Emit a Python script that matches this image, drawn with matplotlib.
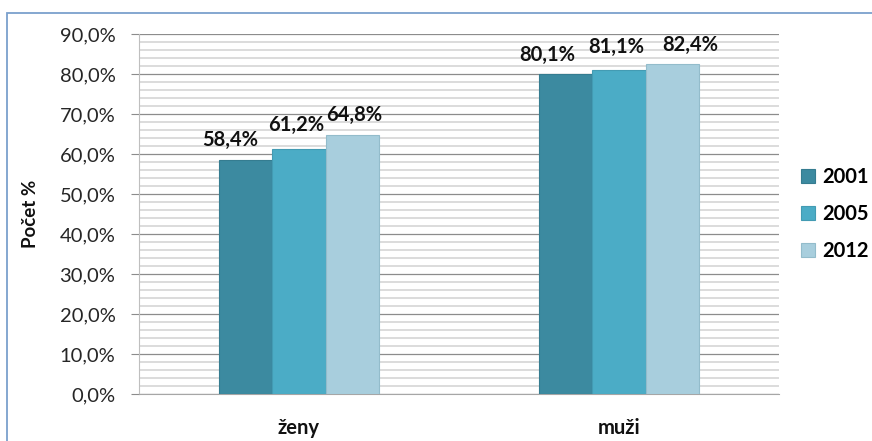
import numpy as np
import matplotlib.pyplot as plt
from matplotlib.patches import Rectangle
from matplotlib.ticker import MultipleLocator, FuncFormatter

categories = ["ženy", "muži"]
years = ["2001", "2005", "2012"]
values_2001 = [58.4, 80.1]
values_2005 = [61.2, 81.1]
values_2012 = [64.8, 82.4]

colors = ["#3C8AA0", "#4BACC6", "#A8CEDD"]
edges = ["#357C90", "#439BB3", "#93BCCB"]
# label offsets (px) - Excel shifts them sideways to avoid overlap
label_dx = [[-15, -3, 2], [-18, -3, 18]]
label_dy = [[10, 14, 10], [9, 13, 9]]

plt.rcParams["font.family"] = ["Lato", "DejaVu Sans"]

fig = plt.figure(figsize=(8.72, 4.41), dpi=100)
ax = fig.add_axes([139/872, 1-394/441, 640/872, 360/441])

x = np.arange(len(categories))
w = 1/6
series = [values_2001, values_2005, values_2012]
for i, vals in enumerate(series):
    bars = ax.bar(x + (i-1)*w, vals, width=w, color=colors[i], edgecolor=edges[i],
                  linewidth=0.8, label=years[i], zorder=3)
    for j, b in enumerate(bars):
        ax.annotate(f"{vals[j]:.1f}%".replace(".", ","),
                    (b.get_x() + b.get_width()/2, b.get_height()),
                    xytext=(label_dx[j][i]*0.72, label_dy[j][i]*0.72),
                    textcoords="offset points",
                    ha="center", va="bottom", fontsize=14.5, fontweight="bold",
                    color="#111111")

ax.set_xlim(-0.5, 1.5)
ax.set_ylim(0, 90)
ax.yaxis.set_major_locator(MultipleLocator(10))
ax.yaxis.set_minor_locator(MultipleLocator(2))
ax.yaxis.set_major_formatter(FuncFormatter(lambda v, p: f"{v:.1f}%".replace(".", ",")))
ax.grid(axis="y", which="major", color="#8C8C8C", linewidth=0.9, zorder=0)
ax.grid(axis="y", which="minor", color="#D5D5D5", linewidth=1.2, zorder=0)
ax.set_axisbelow(True)

ax.set_xticks(x)
ax.set_xticklabels(categories, fontsize=14.5, fontweight="bold", color="#111111")
ax.tick_params(axis="x", length=0, pad=17)
ax.tick_params(axis="y", which="major", length=6, color="#8C8C8C", pad=11,
               labelsize=14.5, labelcolor="#262626")
ax.tick_params(axis="y", which="minor", length=0)

for s in ["top", "right"]:
    ax.spines[s].set_visible(False)
ax.spines["left"].set_color("#BFBFBF")
ax.spines["bottom"].set_color("#A6A6A6")

ax.set_ylabel("Počet %", fontsize=13.5, fontweight="bold", color="#111111")
ax.yaxis.set_label_coords(-0.157, 0.5)

leg = ax.legend(loc="center left", bbox_to_anchor=(1.006, 0.5), frameon=False,
                handlelength=0.7, handleheight=0.7, labelspacing=0.85,
                handletextpad=0.35, prop={"size": 14.5, "weight": "bold"})

fig.patches.append(Rectangle((7/872, -0.05), 1.1, 1-13/441+0.05,
                             transform=fig.transFigure, fill=False,
                             edgecolor="#7BA0CD", linewidth=1.3))

fig.savefig("out.png", dpi=100)
